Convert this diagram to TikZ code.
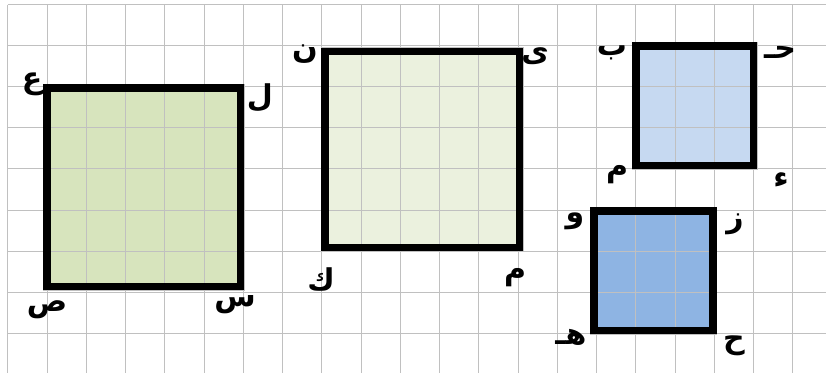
\documentclass[tikz,border=0pt]{standalone}
\usepackage{fontspec}
\TeXXeTstate=1
\newfontfamily\arabicfont[Script=Arabic]{DejaVu Sans}
\definecolor{gridgray}{HTML}{C0C0C0}
\definecolor{fillA}{HTML}{D7E4BD}
\definecolor{fillB}{HTML}{EBF1DE}
\definecolor{fillC}{HTML}{C6D9F1}
\definecolor{fillD}{HTML}{8EB4E3}
\tikzset{
  gridline/.style={draw=gridgray, line width=1pt},
  sqborder/.style={draw=black, line width=7.5pt, line join=miter},
  sqhalo/.style={draw=gridgray, line width=0.8pt},
  lbl/.style={inner sep=0pt, yshift=-4pt, font=\arabicfont\bfseries\fontsize{30}{32}\selectfont}
}
\newcommand{\ar}[1]{\beginR #1\endR}
\begin{document}
\begin{tikzpicture}[x=1pt,y=-1pt]
\useasboundingbox (0,0) rectangle (826,373);
\fill[white] (0,0) rectangle (826,373);
% fills
\fill[fillA] (46.75,87.75) rectangle (240.25,286.25);
\fill[fillB] (324.75,51.5) rectangle (519.25,247.25);
\fill[fillC] (635.75,46) rectangle (753.5,165.25);
\fill[fillD] (593.75,211) rectangle (713,330.5);
% grid
\foreach \k in {0,...,20} {
  \draw[gridline] ({7.9+39.25*\k},4.5) -- ({7.9+39.25*\k},373);
}
\foreach \k in {0,...,8} {
  \draw[gridline] (7.9,{4.5+41.1*\k}) -- (826,{4.5+41.1*\k});
}
% halos
\draw[sqhalo] (43,84) rectangle (244,290);
\draw[sqhalo] (321,47.7) rectangle (523,251);
\draw[sqhalo] (632,42.3) rectangle (757.3,169);
\draw[sqhalo] (590,207.3) rectangle (716.7,334.3);
% borders
\draw[sqborder] (46.75,87.75) rectangle (240.25,286.25);
\draw[sqborder] (324.75,51.5) rectangle (519.25,247.25);
\draw[sqborder] (635.75,46) rectangle (753.5,165.25);
\draw[sqborder] (593.75,211) rectangle (713,330.5);
% labels square 1
\node[lbl] (a1) at (32,80) {\ar{ع}};
\node[lbl] (a2) at (260,94) {\ar{ل}};
\node[lbl] (a3) at (47,306) {\ar{ص}};
\node[lbl] (a4) at (235,301) {\ar{س}};
% labels square 2
\node[lbl] (b1) at (305,50) {\ar{ن}};
\node[lbl] (b2) at (535,52) {\ar{ى}};
\node[lbl] (b3) at (321,276) {\ar{ك}};
\node[lbl] (b4) at (515,274) {\ar{م}};
% labels square 3
\node[lbl] (c1) at (612,49) {\ar{ب}};
\node[lbl] (c2) at (780,48) {\ar{حـ}};
\node[lbl] (c3) at (617,171) {\ar{م}};
\node[lbl] (c4) at (781,176) {\ar{ء}};
% labels square 4
\node[lbl] (d1) at (575,217) {\ar{و}};
\node[lbl] (d2) at (735,220) {\ar{ز}};
\node[lbl] (d3) at (571,333) {\ar{هـ}};
\node[lbl] (d4) at (734,342) {\ar{ح}};
\end{tikzpicture}
\end{document}
